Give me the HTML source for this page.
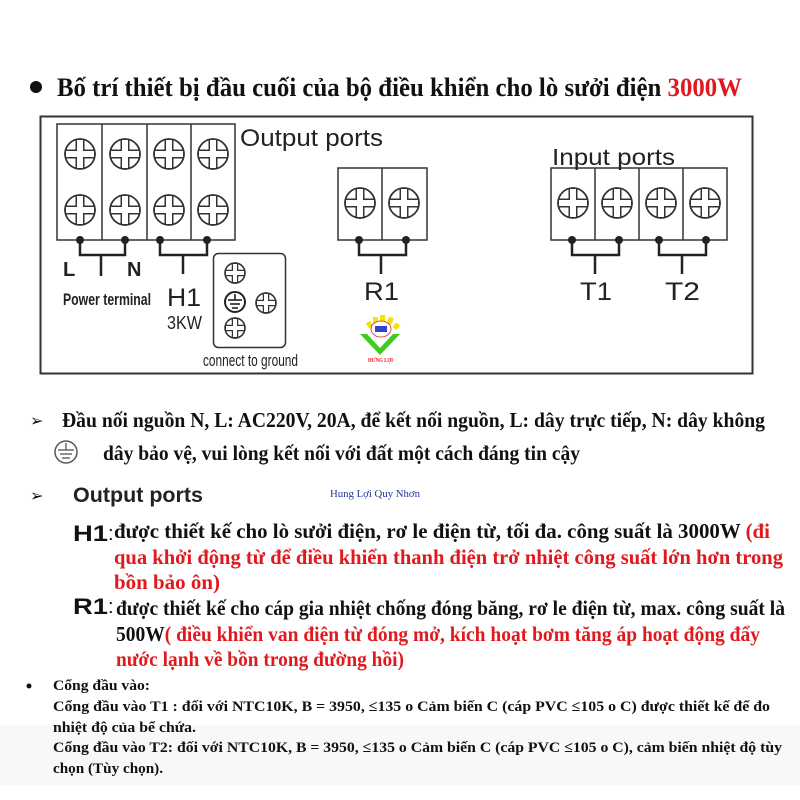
<!DOCTYPE html>
<html><head><meta charset="utf-8"><style>
html,body{margin:0;padding:0;background:#fff;}
svg{display:block}
.s{font-family:"Liberation Serif","DejaVu Serif",serif;font-weight:bold;}
.a{font-family:"Liberation Sans","DejaVu Sans",sans-serif;}
</style></head><body>
<svg width="800" height="800" viewBox="0 0 800 800" xmlns="http://www.w3.org/2000/svg">
<defs>
<g id="sc">
<circle r="15" fill="#fff" stroke="#333" stroke-width="1.6"/>
<line x1="-15" y1="0" x2="15" y2="0" stroke="#333" stroke-width="9"/>
<line x1="0" y1="-15" x2="0" y2="15" stroke="#333" stroke-width="9"/>
<line x1="-14" y1="0" x2="14" y2="0" stroke="#fff" stroke-width="6"/>
<line x1="0" y1="-14" x2="0" y2="14" stroke="#fff" stroke-width="6"/>
<circle r="15" fill="none" stroke="#333" stroke-width="1.6"/>
</g>
<g id="ss">
<circle r="10" fill="#fff" stroke="#333" stroke-width="1.4"/>
<line x1="-10" y1="0" x2="10" y2="0" stroke="#333" stroke-width="6.5"/>
<line x1="0" y1="-10" x2="0" y2="10" stroke="#333" stroke-width="6.5"/>
<line x1="-9" y1="0" x2="9" y2="0" stroke="#fff" stroke-width="4"/>
<line x1="0" y1="-9" x2="0" y2="9" stroke="#fff" stroke-width="4"/>
<circle r="10" fill="none" stroke="#333" stroke-width="1.4"/>
</g>
</defs>
<rect x="0" y="725" width="800" height="60" fill="#f7f8fa"/>
<circle cx="36" cy="87" r="6" fill="#111"/>
<text class="s" x="57" y="96" font-size="26" textLength="685" lengthAdjust="spacingAndGlyphs" fill="#111">Bố trí thiết bị đầu cuối của bộ điều khiển cho lò sưởi điện <tspan fill="#e0191f">3000W</tspan></text>
<rect x="40.5" y="116.5" width="712" height="257" fill="#fff" stroke="#333" stroke-width="2"/>
<g stroke="#333" stroke-width="1.5" fill="none">
<rect x="57" y="124" width="178" height="116"/>
<line x1="102" y1="124" x2="102" y2="240"/><line x1="147" y1="124" x2="147" y2="240"/><line x1="191" y1="124" x2="191" y2="240"/>
<rect x="338" y="168" width="89" height="72"/><line x1="382" y1="168" x2="382" y2="240"/>
<rect x="551" y="168" width="176" height="72"/>
<line x1="595" y1="168" x2="595" y2="240"/><line x1="639" y1="168" x2="639" y2="240"/><line x1="683" y1="168" x2="683" y2="240"/>
<rect x="213.5" y="253.5" width="72" height="94" rx="5"/>
</g>
<g>
<use href="#sc" x="80" y="154"/><use href="#sc" x="125" y="154"/><use href="#sc" x="169" y="154"/><use href="#sc" x="213" y="154"/>
<use href="#sc" x="80" y="210"/><use href="#sc" x="125" y="210"/><use href="#sc" x="169" y="210"/><use href="#sc" x="213" y="210"/>
<use href="#sc" x="360" y="203"/><use href="#sc" x="404" y="203"/>
<use href="#sc" x="573" y="203"/><use href="#sc" x="617" y="203"/><use href="#sc" x="661" y="203"/><use href="#sc" x="705" y="203"/>
<use href="#ss" x="235" y="273"/><use href="#ss" x="266" y="303"/><use href="#ss" x="235" y="328"/>
</g>
<circle cx="235" cy="302" r="10" fill="#fff" stroke="#222" stroke-width="2"/>
<g stroke="#222" stroke-width="1.6"><line x1="235" y1="294" x2="235" y2="300"/><line x1="228" y1="300" x2="242" y2="300"/><line x1="230" y1="304" x2="240" y2="304"/><line x1="232" y1="308" x2="238" y2="308"/></g>
<g stroke="#222" stroke-width="2.5" fill="none">
<polyline points="80,240 80,255 125,255 125,240"/><line x1="101" y1="255" x2="101" y2="276"/>
<polyline points="160,240 160,255 207,255 207,240"/><line x1="183" y1="255" x2="183" y2="274"/>
<polyline points="359,240 359,255 406,255 406,240"/><line x1="381" y1="255" x2="381" y2="274"/>
<polyline points="572,240 572,255 619,255 619,240"/><line x1="595" y1="255" x2="595" y2="274"/>
<polyline points="659,240 659,255 706,255 706,240"/><line x1="682" y1="255" x2="682" y2="274"/>
</g>
<g fill="#222">
<circle cx="80" cy="240" r="4"/><circle cx="125" cy="240" r="4"/><circle cx="160" cy="240" r="4"/><circle cx="207" cy="240" r="4"/>
<circle cx="359" cy="240" r="4"/><circle cx="406" cy="240" r="4"/>
<circle cx="572" cy="240" r="4"/><circle cx="619" cy="240" r="4"/><circle cx="659" cy="240" r="4"/><circle cx="706" cy="240" r="4"/>
</g>
<g class="a" fill="#222">
<text x="240" y="146" font-size="24" textLength="143" lengthAdjust="spacingAndGlyphs">Output ports</text>
<text x="552" y="165" font-size="23" textLength="123" lengthAdjust="spacingAndGlyphs">Input ports</text>
<text x="63" y="276" font-size="20" font-weight="bold">L</text>
<text x="127" y="276" font-size="20" font-weight="bold">N</text>
<text x="63" y="305" font-size="17" font-weight="bold" textLength="88" lengthAdjust="spacingAndGlyphs">Power terminal</text>
<text x="167" y="306" font-size="25" textLength="34" lengthAdjust="spacingAndGlyphs">H1</text>
<text x="167" y="329" font-size="18" textLength="35" lengthAdjust="spacingAndGlyphs">3KW</text>
<text x="203" y="366" font-size="17" textLength="95" lengthAdjust="spacingAndGlyphs">connect to ground</text>
<text x="364" y="300" font-size="25" textLength="35" lengthAdjust="spacingAndGlyphs">R1</text>
<text x="580" y="300" font-size="25" textLength="32" lengthAdjust="spacingAndGlyphs">T1</text>
<text x="665" y="300" font-size="25" textLength="35" lengthAdjust="spacingAndGlyphs">T2</text>
</g>
<g>
<rect x="373" y="317" width="5" height="7" fill="#f5e400"/>
<rect x="380" y="315" width="5" height="7" fill="#f5e400"/>
<rect x="388" y="317" width="5" height="7" fill="#f5e400" transform="rotate(20 390 320)"/>
<rect x="367" y="322" width="5" height="6" fill="#f5e400" transform="rotate(-35 369 325)"/>
<rect x="394" y="323" width="5" height="6" fill="#f5e400" transform="rotate(35 396 326)"/>
<ellipse cx="381" cy="329" rx="10" ry="8" fill="#fff" stroke="#d22" stroke-width="0.8"/>
<rect x="375" y="326" width="12" height="6" fill="#3344cc"/>
<polygon points="360,334 367,334 380,348 393,334 400,334 380,355" fill="#3fcc1f"/>
<text class="s" x="368" y="362" font-size="6" fill="#e0191f" textLength="25" lengthAdjust="spacingAndGlyphs">HƯNG LỢI</text>
</g>
<g class="s" fill="#111">
<text x="30" y="426" font-size="16" font-weight="normal">➢</text>
<text x="62" y="427" font-size="21" textLength="703" lengthAdjust="spacingAndGlyphs">Đầu nối nguồn N, L: AC220V, 20A, để kết nối nguồn, L: dây trực tiếp, N: dây không</text>
<text x="103" y="460" font-size="21" textLength="477" lengthAdjust="spacingAndGlyphs">dây bảo vệ, vui lòng kết nối với đất một cách đáng tin cậy</text>
<text x="30" y="501" font-size="16" font-weight="normal">➢</text>
</g>
<circle cx="66" cy="452" r="11" fill="none" stroke="#555" stroke-width="1.5"/>
<g stroke="#555" stroke-width="1.3"><line x1="66" y1="443" x2="66" y2="450"/><line x1="58" y1="450" x2="74" y2="450"/><line x1="60" y1="454" x2="72" y2="454"/><line x1="62" y1="458" x2="70" y2="458"/></g>
<g class="a" fill="#111">
<text x="73" y="502" font-size="21" font-weight="bold" textLength="130" lengthAdjust="spacingAndGlyphs" fill="#222">Output ports</text>
<text x="73" y="541" font-size="22" font-weight="bold" textLength="35" lengthAdjust="spacingAndGlyphs">H1</text>
<text x="108" y="540" font-size="20">:</text>
<text x="73" y="614" font-size="22" font-weight="bold" textLength="35" lengthAdjust="spacingAndGlyphs">R1</text>
<text x="108" y="613" font-size="20">:</text>
</g>
<text x="330" y="497" font-family="Liberation Serif, serif" font-size="10" fill="#223399" textLength="90" lengthAdjust="spacingAndGlyphs">Hung Lợi Quy Nhơn</text>
<g class="s" fill="#111" font-size="21">
<text x="114" y="538" textLength="656" lengthAdjust="spacingAndGlyphs">được thiết kế cho lò sưởi điện, rơ le điện từ, tối đa. công suất là 3000W <tspan fill="#e0191f">(đi</tspan></text>
<text x="114" y="564" fill="#e0191f" textLength="669" lengthAdjust="spacingAndGlyphs">qua khởi động từ để điều khiển thanh điện trở nhiệt công suất lớn hơn trong</text>
<text x="114" y="589" fill="#e0191f" textLength="106" lengthAdjust="spacingAndGlyphs">bồn bảo ôn)</text>
<text x="116" y="615" textLength="669" lengthAdjust="spacingAndGlyphs">được thiết kế cho cáp gia nhiệt chống đóng băng, rơ le điện từ, max. công suất là</text>
<text x="116" y="641" textLength="644" lengthAdjust="spacingAndGlyphs">500W<tspan fill="#e0191f">( điều khiển van điện từ đóng mở, kích hoạt bơm tăng áp hoạt động đẩy</tspan></text>
<text x="116" y="666" fill="#e0191f" textLength="288" lengthAdjust="spacingAndGlyphs">nước lạnh về bồn trong đường hồi)</text>
</g>
<g class="s" fill="#111" font-size="15">
<circle cx="29" cy="686" r="2.5" fill="#111"/>
<text x="53" y="690" textLength="97" lengthAdjust="spacingAndGlyphs">Cổng đầu vào:</text>
<text x="53" y="711" textLength="717" lengthAdjust="spacingAndGlyphs">Cổng đầu vào T1 : đối với NTC10K, B = 3950, ≤135 o Cảm biến C (cáp PVC ≤105 o C) được thiết kế để đo</text>
<text x="53" y="732" textLength="143" lengthAdjust="spacingAndGlyphs">nhiệt độ của bể chứa.</text>
<text x="53" y="752" textLength="729" lengthAdjust="spacingAndGlyphs">Cổng đầu vào T2: đối với NTC10K, B = 3950, ≤135 o Cảm biến C (cáp PVC ≤105 o C), cảm biến nhiệt độ tùy</text>
<text x="53" y="773" textLength="110" lengthAdjust="spacingAndGlyphs">chọn (Tùy chọn).</text>
</g>
</svg>
</body></html>
